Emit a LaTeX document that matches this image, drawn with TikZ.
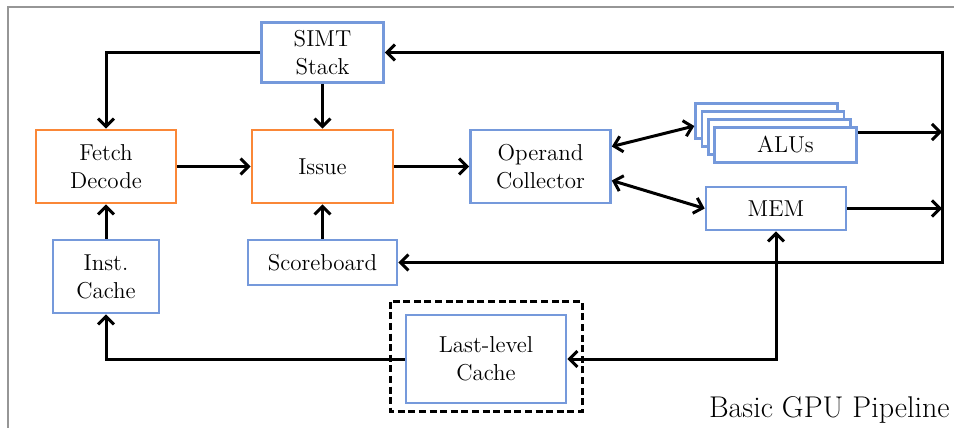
\documentclass[tikz,border=0pt]{standalone}
\usepackage{tikz}
\usetikzlibrary{positioning, arrows.meta}
\definecolor{unitblue}{RGB}{117,153,219}
\definecolor{stageorange}{RGB}{250,135,55}
\definecolor{framegray}{RGB}{150,150,150}
\tikzset{
    >={Straight Barb[length=4pt,width=8pt]}, % Open arrowheads
    unit/.style={draw=unitblue, line width=1.3pt, fill=white, inner sep=2pt, align=center}, % Blue units
    stage/.style={unit, draw=stageorange}, % Orange pipeline stages
    link/.style={line width=1.5pt}, % Black connectors
    llcbox/.style={line width=1.5pt, dash pattern=on 3.5pt off 1.8pt}, % Dashed frame round the cache
}

\begin{document}
\begin{tikzpicture}[x=0.5pt, y=-0.5pt, font=\fontsize{11.5}{14}\selectfont]
    \useasboundingbox (0,0) rectangle (954,428);
    \draw[framegray, line width=0.8pt] (8,428) -- (8,7) -- (954,7);

    \node[stage, minimum width=70pt, minimum height=36.5pt] (fetch) at (106,166.5) {Fetch\\Decode};
    \node[stage, minimum width=70.5pt, minimum height=36.5pt, node distance=108.25pt] (issue) [right of=fetch] {Issue};
    \node[unit, minimum width=70pt, minimum height=36.5pt, node distance=109pt] (oc) [right of=issue] {Operand\\Collector};
    \node[unit, minimum width=61pt, minimum height=30pt, node distance=57pt] (simt) [above of=issue] {SIMT\\Stack};
    \node[unit, minimum width=74.5pt, minimum height=22.5pt, node distance=48pt] (score) [below of=issue] {Scoreboard};
    \node[unit, minimum width=53pt, minimum height=36.5pt, node distance=55pt] (icache) [below of=fetch] {Inst.\\Cache};

    \foreach \i in {3,2,1}
        \node[unit, minimum width=71pt, minimum height=17.5pt] (alu\i) at (785.5-6.3*\i,145-8*\i) {};
    \node[unit, minimum width=71pt, minimum height=17.5pt] (alus) at (785.5,145) {ALUs};
    \node[unit, minimum width=70pt, minimum height=21.5pt] (mem) at (776,208.5) {MEM};
    \node[unit, minimum width=80pt, minimum height=44pt] (llc) at (486,359) {Last-level\\Cache};
    \draw[llcbox] ([shift={(-14,-12)}]llc.north west) rectangle ([shift={(15,7)}]llc.south east);

    \coordinate (bus) at (942,157);
    \node[anchor=base east, inner sep=0pt, font=\fontsize{15}{18}\selectfont] (title) at (950,417) {Basic GPU Pipeline};

    \path[link]
        (fetch) edge[->] (issue)
        (issue) edge[->] (oc)
        (simt) edge[->] (issue)
        (score) edge[->] (issue)
        (icache) edge[->] (fetch)
        ([yshift=10pt]oc.east) edge[<->] ([yshift=-2.5pt]alu3.west)
        ([yshift=-7pt]oc.east) edge[<->] (mem.west);
    \draw[link, ->] (simt.west) -| (fetch.north);
    \draw[link, <->] (simt.east) -| (bus) |- (score.east);
    \draw[link, ->] ([yshift=6.5pt]alus.east) -- ([yshift=6.5pt]alus.east -| bus);
    \draw[link, ->] (mem.east) -- (mem.east -| bus);
    \draw[link, <->] (mem.south) |- (llc.east);
    \draw[link, ->] (llc.west) -| (icache.south);
\end{tikzpicture}
\end{document}
